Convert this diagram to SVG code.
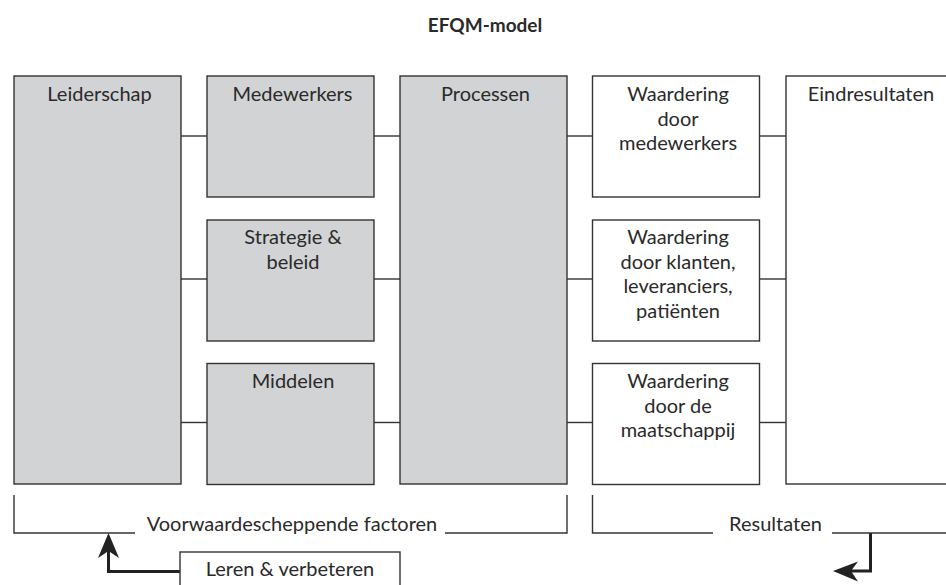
<svg xmlns="http://www.w3.org/2000/svg" width="946" height="585" viewBox="0 0 946 585">
<defs>
<style>
.box{stroke:#333;stroke-width:1.4}
.g{fill:#d1d3d4}
.w{fill:#fff}
.ln{stroke:#333;stroke-width:1.4;fill:none}
.arr{stroke:#222;stroke-width:3;fill:none}
.ah{fill:#222}
text{font-family:Lato,"Open Sans","Liberation Sans",sans-serif;font-size:20px;fill:#2a2a2a;text-anchor:middle}
.title{font-weight:bold;font-size:19px}
</style>
</defs>
<rect width="946" height="585" fill="#fff"/>
<text class="title" x="485" y="32">EFQM-model</text>

<g id="connectors">
<line class="ln" x1="181" y1="136" x2="207" y2="136"/>
<line class="ln" x1="181" y1="279" x2="207" y2="279"/>
<line class="ln" x1="181" y1="422.5" x2="207" y2="422.5"/>
<line class="ln" x1="374" y1="136" x2="400" y2="136"/>
<line class="ln" x1="374" y1="279" x2="400" y2="279"/>
<line class="ln" x1="374" y1="422.5" x2="400" y2="422.5"/>
<line class="ln" x1="567" y1="136" x2="592.5" y2="136"/>
<line class="ln" x1="567" y1="279" x2="592.5" y2="279"/>
<line class="ln" x1="567" y1="422.5" x2="592.5" y2="422.5"/>
<line class="ln" x1="759.5" y1="136" x2="786" y2="136"/>
<line class="ln" x1="759.5" y1="279" x2="786" y2="279"/>
<line class="ln" x1="759.5" y1="422.5" x2="786" y2="422.5"/>
<polyline class="arr" points="180,571.5 108.5,571.5 108.5,550"/>
<polygon class="ah" points="108.5,533 119,558 108.5,551 98,558"/>
<polyline class="arr" points="870.5,533 870.5,571 850,571"/>
<polygon class="ah" points="833,571 858,561.5 851,571 858,581.5"/>
</g>

<g id="leiderschap">
<rect class="box g" x="14" y="76" width="167" height="408"/>
<text x="99.5" y="101">Leiderschap</text>
</g>
<g id="medewerkers">
<rect class="box g" x="207" y="76" width="167" height="121"/>
<text x="292.5" y="101">Medewerkers</text>
</g>
<g id="strategie">
<rect class="box g" x="207" y="220" width="167" height="121"/>
<text x="293" y="244">Strategie &amp;</text>
<text x="293" y="268.5">beleid</text>
</g>
<g id="middelen">
<rect class="box g" x="207" y="363.5" width="167" height="121"/>
<text x="293" y="388">Middelen</text>
</g>
<g id="processen">
<rect class="box g" x="400" y="76" width="167" height="408"/>
<text x="485.5" y="101">Processen</text>
</g>
<g id="waardering-medewerkers">
<rect class="box w" x="592.5" y="76" width="167" height="121"/>
<text x="678" y="101">Waardering</text>
<text x="678" y="125.5">door</text>
<text x="678" y="150">medewerkers</text>
</g>
<g id="waardering-klanten">
<rect class="box w" x="592.5" y="220" width="167" height="121"/>
<text x="678" y="244">Waardering</text>
<text x="678" y="268.5">door klanten,</text>
<text x="678" y="293">leveranciers,</text>
<text x="678" y="317.5">patiënten</text>
</g>
<g id="waardering-maatschappij">
<rect class="box w" x="592.5" y="363.5" width="167" height="121"/>
<text x="678" y="388">Waardering</text>
<text x="678" y="412.5">door de</text>
<text x="678" y="437">maatschappij</text>
</g>
<g id="eindresultaten">
<rect class="box w" x="786" y="76" width="180" height="408"/>
<text x="871" y="101">Eindresultaten</text>
</g>
<g id="voorwaardescheppende">
<polyline class="ln" points="14,495 14,533 135,533"/>
<polyline class="ln" points="445,533 567,533 567,495"/>
<text x="292" y="531">Voorwaardescheppende factoren</text>
</g>
<g id="resultaten">
<polyline class="ln" points="592.5,495 592.5,533 713,533"/>
<line class="ln" x1="832" y1="533" x2="960" y2="533"/>
<text x="775.5" y="531">Resultaten</text>
</g>
<g id="leren">
<rect class="box w" x="180" y="552" width="220" height="45"/>
<text x="290" y="576">Leren &amp; verbeteren</text>
</g>
</svg>
